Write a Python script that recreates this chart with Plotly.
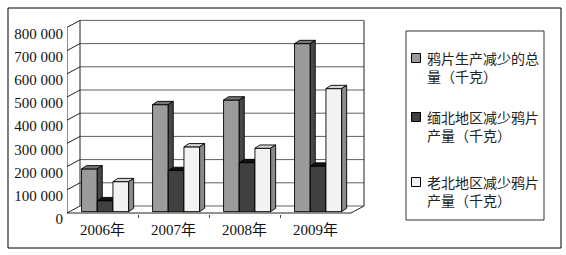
import plotly.graph_objects as go

# ---------------- data ----------------
CATEGORIES = ["2006年", "2007年", "2008年", "2009年"]
SERIES_NAMES = [
    ["鸦片生产减少的总", "量（千克）"],
    ["缅北地区减少鸦片", "产量（千克）"],
    ["老北地区减少鸦片", "产量（千克）"],
]
TOTAL = [184000, 461000, 481000, 724000]
NORTH_MYANMAR = [47000, 177000, 211000, 196000]
NORTH_LAOS = [129000, 279000, 273000, 530000]
Y_TICKS = [0, 100000, 200000, 300000, 400000, 500000, 600000, 700000, 800000]
Y_TICK_LABELS = ["0", "100 000", "200 000", "300 000", "400 000",
                 "500 000", "600 000", "700 000", "800 000"]

SERIES = [TOTAL, NORTH_MYANMAR, NORTH_LAOS]
# (front, top, side) colours per series
COLORS = [
    ("#9b9b9b", "#767676", "#474747"),
    ("#404040", "#111111", "#2a2a2a"),
    ("#f3f3f3", "#d4d4d4", "#8a8a8a"),
]

# ---------------- geometry (pixels -> data units) ----------------
W_PX, H_PX = 566, 255
PX_PER_CAT = 71.0
FRONT_LEFT_PX = 67
FLOOR_PX = 213
K = 185.6 / 800000.0           # px per value unit
DEPTH_X = 13 / PX_PER_CAT      # wall depth in category units
DEPTH_Y = 7 / K                # wall depth in value units
BAR_W = 15.7 / PX_PER_CAT
GAP = 1 - 3 * BAR_W
BAR_PLANE = 0.2                # fraction of depth where bar fronts sit
BAR_DX = 5 / PX_PER_CAT
BAR_DY = 3.3 / K
LABEL_DROP_PX = 6              # value-axis labels sit a little below their gridline

X_RIGHT_PX = 368
X_AXIS_PX = 214
Y_BOTTOM_PX = 234
Y_TOP_PX = 12
x_range = [-0.5, -0.5 + (X_RIGHT_PX - FRONT_LEFT_PX) / PX_PER_CAT]
y_range = [-(Y_BOTTOM_PX - FLOOR_PX) / K, (FLOOR_PX - Y_TOP_PX) / K]
label_zero_px = FLOOR_PX + LABEL_DROP_PX
y2_range = [-(Y_BOTTOM_PX - label_zero_px) / K, (label_zero_px - Y_TOP_PX) / K]
x_left, x_right = -0.5, len(CATEGORIES) - 0.5
y_max = Y_TICKS[-1]

fig = go.Figure()


def line_trace(xs, ys, color, width=1):
    fig.add_trace(go.Scatter(x=xs, y=ys, mode="lines", hoverinfo="skip",
                             line=dict(color=color, width=width), showlegend=False))


# back-wall gridlines
gx, gy = [], []
for t in Y_TICKS:
    gx += [x_left + DEPTH_X, x_right + DEPTH_X, None]
    gy += [t + DEPTH_Y, t + DEPTH_Y, None]
line_trace(gx, gy, "#606060")

# side-wall diagonal ticks
dx_, dy_ = [], []
for t in Y_TICKS:
    dx_ += [x_left, x_left + DEPTH_X, None]
    dy_ += [t, t + DEPTH_Y, None]
line_trace(dx_, dy_, "#222222")

# wall edges and floor
line_trace([x_left, x_left], [0, y_max], "#222222")
line_trace([x_left + DEPTH_X, x_left + DEPTH_X], [DEPTH_Y, y_max + DEPTH_Y], "#222222")
line_trace([x_right + DEPTH_X, x_right + DEPTH_X], [DEPTH_Y, y_max + DEPTH_Y], "#222222")
line_trace([x_left, x_right, x_right + DEPTH_X], [0, 0, DEPTH_Y], "#222222")

# 3-D bars
fx = BAR_PLANE * DEPTH_X
fy = BAR_PLANE * DEPTH_Y
for s, vals in enumerate(SERIES):
    faces = {"front": ([], []), "top": ([], []), "side": ([], [])}
    for i, v in enumerate(vals):
        x0 = i - 0.5 + GAP / 2 + s * BAR_W + fx
        x1 = x0 + BAR_W
        y0 = fy
        y1 = v + fy
        fxs, fys = faces["front"]
        fxs += [x0, x1, x1, x0, x0, None]
        fys += [y0, y0, y1, y1, y0, None]
        txs, tys = faces["top"]
        txs += [x0, x1, x1 + BAR_DX, x0 + BAR_DX, x0, None]
        tys += [y1, y1, y1 + BAR_DY, y1 + BAR_DY, y1, None]
        sxs, sys_ = faces["side"]
        sxs += [x1, x1 + BAR_DX, x1 + BAR_DX, x1, x1, None]
        sys_ += [y0, y0 + BAR_DY, y1 + BAR_DY, y1, y0, None]
    for key, col in zip(["front", "top", "side"], COLORS[s]):
        xs, ys = faces[key]
        fig.add_trace(go.Scatter(x=xs, y=ys, mode="lines", fill="toself",
                                 fillcolor=col, line=dict(color="#000000", width=0.9),
                                 hoverinfo="skip", showlegend=False))

# ---------------- layout ----------------
def px(xp):
    return xp / W_PX


def py(yp):
    return 1 - yp / H_PX


shapes = [
    dict(type="rect", xref="paper", yref="paper", x0=px(8), x1=px(561),
         y0=py(248), y1=py(8), line=dict(color="#000000", width=1)),
    dict(type="rect", xref="paper", yref="paper", x0=px(406), x1=px(544),
         y0=py(220), y1=py(31), line=dict(color="#333333", width=1)),
]
annotations = []
LEG_Y = [58, 117, 182]
for s, (names, yy) in enumerate(zip(SERIES_NAMES, LEG_Y)):
    shapes.append(dict(type="rect", xref="paper", yref="paper",
                       x0=px(411.5), x1=px(420.5), y0=py(yy + 4.5), y1=py(yy - 4.5),
                       fillcolor=COLORS[s][0], line=dict(color="#000000", width=1)))
    annotations.append(dict(text="<br>".join(names), xref="paper", yref="paper",
                            x=px(425), y=py(yy - 12), xanchor="left", yanchor="top",
                            align="left", showarrow=False,
                            font=dict(family="Noto Sans CJK SC", size=14,
                                      color="#222222")))

fig.update_layout(
    width=W_PX, height=H_PX,
    margin=dict(l=0, r=0, t=0, b=0, autoexpand=False),
    paper_bgcolor="white", plot_bgcolor="white",
    showlegend=False,
    shapes=shapes, annotations=annotations,
    xaxis=dict(domain=[px(FRONT_LEFT_PX), px(X_RIGHT_PX)], range=x_range,
               anchor="free", position=py(X_AXIS_PX),
               tickvals=list(range(len(CATEGORIES))), ticktext=CATEGORIES,
               showgrid=False, zeroline=False, showline=False, ticks="",
               ticklabelstandoff=5, automargin=False,
               minor=dict(tickvals=[0.5, 1.5, 2.5], ticks="outside", ticklen=3,
                          tickcolor="#444444", showgrid=False),
               tickfont=dict(family="Liberation Serif, Noto Sans CJK SC",
                             size=15, color="#111111")),
    yaxis=dict(domain=[py(Y_BOTTOM_PX), py(Y_TOP_PX)], range=y_range,
               showticklabels=False, showgrid=False, zeroline=False,
               showline=False, ticks="", automargin=False),
    # label axis: same scale, offset so labels sit slightly below their values
    yaxis2=dict(overlaying="y", anchor="x", side="left", range=y2_range,
                tickvals=Y_TICKS, ticktext=Y_TICK_LABELS,
                showgrid=False, zeroline=False, showline=False, ticks="",
                ticklabelstandoff=3, automargin=False,
                tickfont=dict(family="Liberation Serif", size=15, color="#111111")),
)
# an invisible trace keeps the label axis drawn
fig.add_trace(go.Scatter(x=[None], y=[None], yaxis="y2", showlegend=False,
                         hoverinfo="skip"))

fig.write_html("out.html")
